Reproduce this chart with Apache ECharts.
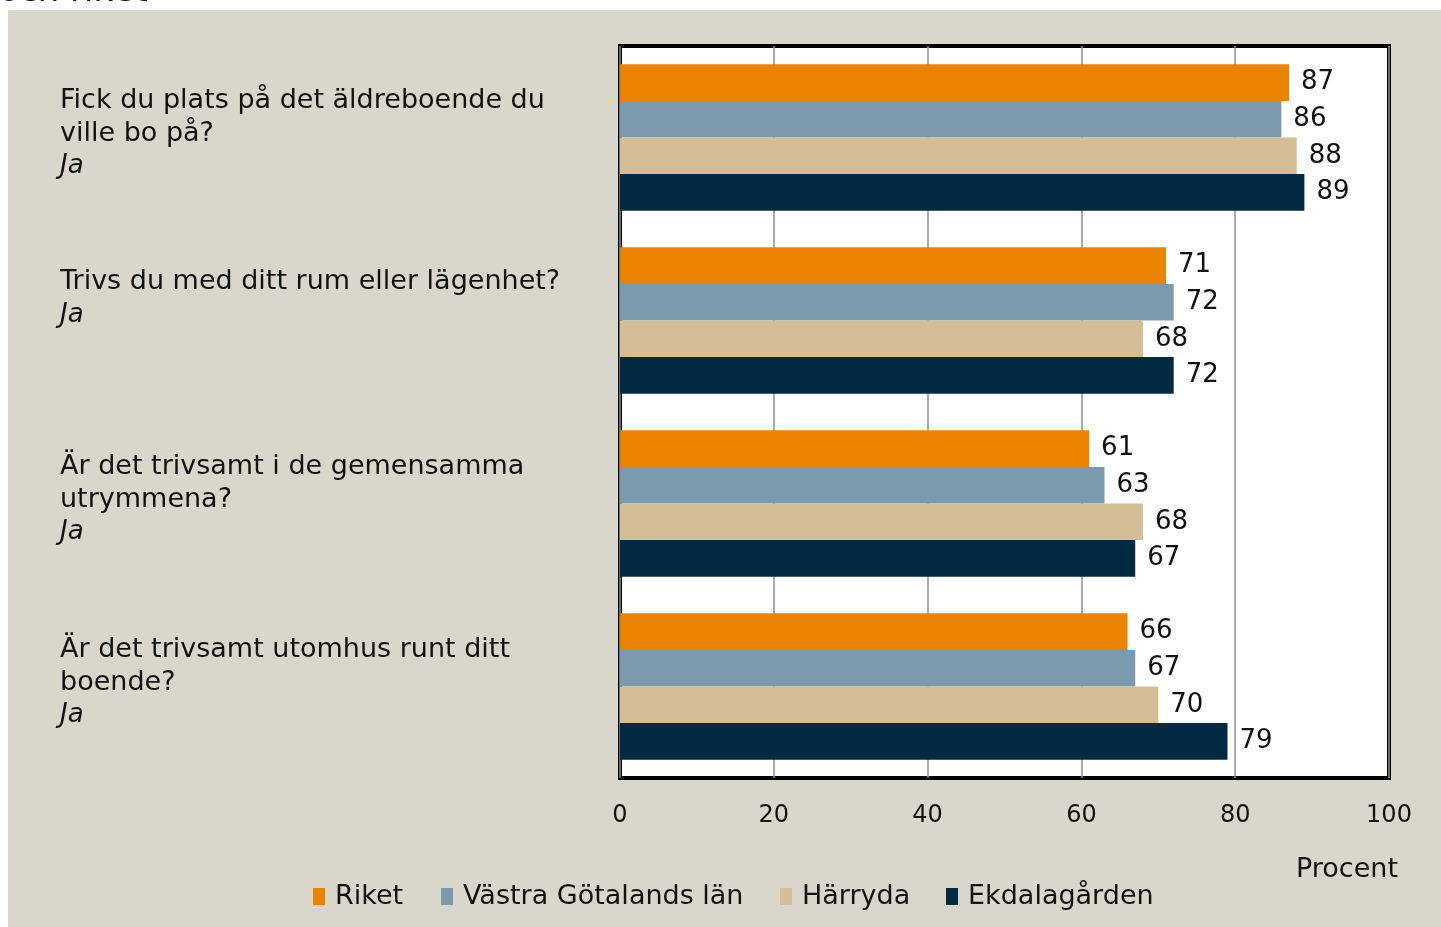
<!DOCTYPE html>
<html><head><meta charset="utf-8">
<script src="https://cdn.jsdelivr.net/npm/echarts@6/dist/echarts.min.js"></script>
<style>
html,body{margin:0;padding:0;background:#fff;width:1441px;height:927px;overflow:hidden;}
#panel{position:absolute;left:8px;top:10px;width:1433px;height:917px;background:#D9D7CB;}
#chart{position:absolute;left:0;top:0;width:1441px;height:927px;}
</style></head>
<body>
<div id="panel"></div>
<div id="chart"></div>
<script>
// Data
const questions = [
  ['Fick du plats på det äldreboende du', 'ville bo på?'],
  ['Trivs du med ditt rum eller lägenhet?'],
  ['Är det trivsamt i de gemensamma', 'utrymmena?'],
  ['Är det trivsamt utomhus runt ditt', 'boende?']
];
const answer = 'Ja';
const seriesNames = ['Riket', 'Västra Götalands län', 'Härryda', 'Ekdalagården'];
const riket = [87, 71, 61, 66];
const vastraGotaland = [86, 72, 63, 67];
const harryda = [88, 68, 68, 70];
const ekdalagarden = [89, 72, 67, 79];
const xTicks = [0, 20, 40, 60, 80, 100];
const unitLabel = 'Procent';
const cutTitle = 'och riket';

// Layout/style
const colors = ['#E98300', '#7C9AAD', '#D3BE95', '#002A42'];
const spacerStyle = ['sA', 'sB', 'sA', 'sA'];
const legendLeft = [313, 441, 780, 946];
const FONT = 'DejaVu Sans';

const values = [riket, vastraGotaland, harryda, ekdalagarden];
const catKeys = questions.map((q, i) => 'c' + i);

const chart = echarts.init(document.getElementById('chart'), null, {renderer: 'canvas'});
chart.setOption({
  backgroundColor: 'transparent',
  animation: false,
  textStyle: {fontFamily: FONT},
  title: {
    text: unitLabel, right: 38, top: 851,
    textStyle: {fontFamily: FONT, fontSize: 27, fontWeight: 'normal', color: '#111'}
  },
  graphic: [{
    type: 'text', left: 0, top: -25,
    style: {text: cutTitle, font: 'italic 34px "DejaVu Sans"', fill: '#111'}
  }],
  legend: seriesNames.map((name, k) => ({
    data: [name], left: legendLeft[k], top: 883, padding: 0,
    itemWidth: 12, itemHeight: 17, itemGap: 0,
    icon: 'rect',
    textStyle: {fontFamily: FONT, fontSize: 27, color: '#111', padding: [0, 0, 0, 5]}
  })),
  grid: {
    left: 620, top: 46, width: 769, height: 732,
    show: true, backgroundColor: '#fff', borderColor: '#000', borderWidth: 4,
    containLabel: false
  },
  xAxis: {
    type: 'value', min: 0, max: 100, interval: 20,
    axisLine: {show: false}, axisTick: {show: false},
    splitLine: {show: true, lineStyle: {color: '#8E8E8E', width: 1.5}},
    axisLabel: {
      fontFamily: FONT, fontSize: 24, color: '#111', margin: 26,
      formatter: v => xTicks.includes(v) ? String(v) : ''
    }
  },
  yAxis: {
    type: 'category', inverse: true, data: catKeys,
    axisLine: {show: false}, axisTick: {show: false},
    axisLabel: {
      align: 'left', margin: 560, verticalAlign: 'middle',
      formatter: (v, i) => {
        const lines = questions[i].map(l => '{q|' + l + '}');
        lines.push('{ja|' + answer + '}');
        lines.push('{' + spacerStyle[i] + '| }');
        return lines.join('\n');
      },
      rich: {
        q: {fontFamily: FONT, fontSize: 27, lineHeight: 33, color: '#111'},
        ja: {fontFamily: FONT, fontSize: 26, lineHeight: 33, color: '#111', fontStyle: 'italic'},
        sA: {fontSize: 4, lineHeight: 8},
        sB: {fontSize: 4, lineHeight: 44}
      }
    }
  },
  series: seriesNames.map((name, k) => ({
    name, type: 'bar', data: values[k],
    barGap: '0%', barCategoryGap: '20%',
    itemStyle: {color: colors[k]},
    label: {
      show: true, position: 'right', distance: 12,
      fontFamily: FONT, fontSize: 26, color: '#111'
    }
  }))
});
</script>
</body></html>
